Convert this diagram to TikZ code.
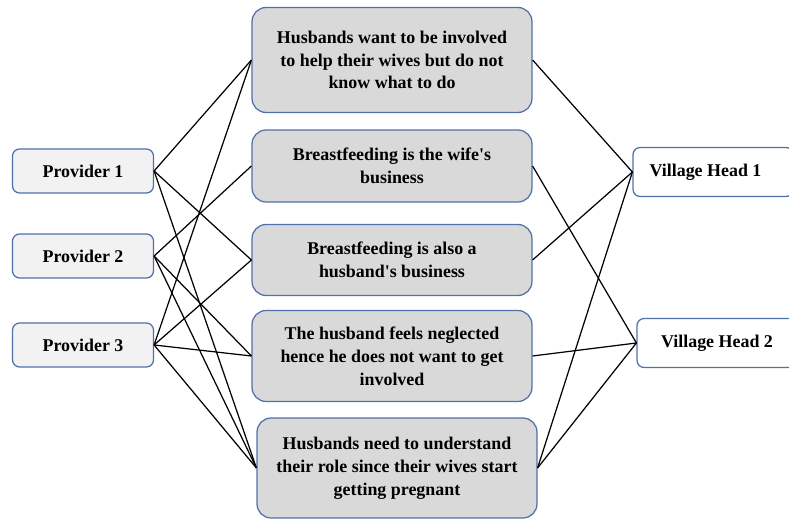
\documentclass[tikz,border=0pt]{standalone}
\usepackage{fontspec}
\setmainfont{Liberation Serif}
\usetikzlibrary{positioning}
\definecolor{edgeblue}{RGB}{79,112,168}
\definecolor{themegray}{RGB}{217,217,217}
\definecolor{provgray}{RGB}{242,242,242}

\begin{document}
\begin{tikzpicture}[x=0.02cm, y=-0.02cm, font=\fontsize{10.2}{13}\selectfont\bfseries,
    provider/.style={draw=edgeblue, fill=provgray, line width=0.7pt, rounded corners=4pt, minimum width=2.82cm, minimum height=0.88cm},
    theme/.style={draw=edgeblue, fill=themegray, line width=0.7pt, rounded corners=8pt, minimum width=5.6cm, align=center},
    head/.style={draw=edgeblue, fill=white, line width=0.7pt, rounded corners=4pt, minimum width=3.2cm, minimum height=0.98cm},
    link/.style={line width=0.7pt}]
        \useasboundingbox (0,0) rectangle (789,519);

        % Providers
        \node[provider] (prov1) at (83,171) {Provider 1};
        \node[provider] (prov2) at (83,256) {Provider 2};
        \node[provider] (prov3) at (83,345) {Provider 3};

        % Themes
        \node[theme, minimum height=2.1cm] (thm1) at (392,60) {Husbands want to be involved\\to help their wives but do not\\know what to do};
        \node[theme, minimum height=1.44cm] (thm2) at (392,166) {Breastfeeding is the wife\textquotesingle s\\business};
        \node[theme, minimum height=1.42cm] (thm3) at (392,260) {Breastfeeding is also a\\husband\textquotesingle s business};
        \node[theme, minimum height=1.82cm] (thm4) at (392,356) {The husband feels neglected\\hence he does not want to get\\involved};
        \node[theme, minimum height=2.0cm] (thm5) at (397,468) {Husbands need to understand\\their role since their wives start\\getting pregnant};

        % Village heads
        \node[head] (vh1) at (713,172) {\hspace*{-0.3cm}Village Head 1};
        \node[head] (vh2) at (717,343) {Village Head 2};

        % Links, providers
        \draw[link] (prov1.east) -- (thm1.west);
        \draw[link] (prov1.east) -- (thm3.west);
        \draw[link] (prov1.east) -- (thm5.west);
        \draw[link] (prov2.east) -- (thm2.west);
        \draw[link] (prov2.east) -- (thm4.west);
        \draw[link] (prov2.east) -- (thm5.west);
        \draw[link] (prov3.east) -- (thm1.west);
        \draw[link] (prov3.east) -- (thm3.west);
        \draw[link] (prov3.east) -- (thm4.west);
        \draw[link] (prov3.east) -- (thm5.west);

        % Links, village heads
        \draw[link] (thm1.east) -- (vh1.west);
        \draw[link] (thm3.east) -- (vh1.west);
        \draw[link] (thm5.east) -- (vh1.west);
        \draw[link] (thm2.east) -- (vh2.west);
        \draw[link] (thm4.east) -- (vh2.west);
        \draw[link] (thm5.east) -- (vh2.west);
    \end{tikzpicture}
\end{document}
